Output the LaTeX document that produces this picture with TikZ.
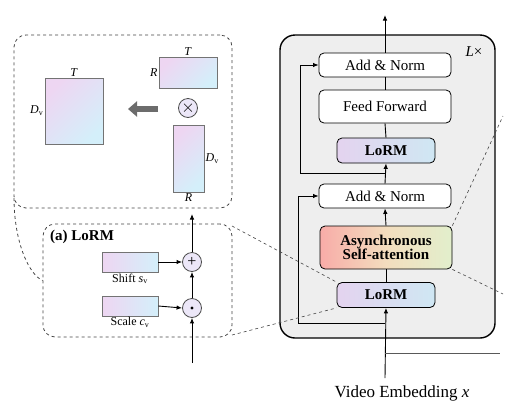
\documentclass[tikz,border=0pt]{standalone}
\usepackage{fontspec}
\setmainfont{Liberation Serif}
\usetikzlibrary{arrows.meta,calc}
\definecolor{matA}{HTML}{EED6F2}
\definecolor{matB}{HTML}{D4EFFA}
\definecolor{lorA}{HTML}{E4D3EF}
\definecolor{lorB}{HTML}{CFE7F3}
\definecolor{asaA}{HTML}{F8ACA8}
\definecolor{asaM}{HTML}{F3DDBE}
\definecolor{asaB}{HTML}{E2EFCC}
\definecolor{panel}{HTML}{EEEEEE}
\definecolor{dashc}{HTML}{444444}
\definecolor{circf}{HTML}{ECE7F8}
\tikzset{
  mat/.style={draw=gray!90!black, line width=0.8pt, top color=matA, bottom color=matB, shading angle=45, inner sep=0pt},
  lbl/.style={font=\fontsize{12}{12}\selectfont, inner sep=1pt},
  dbox/.style={draw=dashc, dashed, line width=0.8pt, rounded corners=12pt, inner sep=0pt},
  blk/.style={draw=black, line width=0.8pt, rounded corners=5pt, fill=white, minimum width=132pt, font=\fontsize{15}{15}\selectfont, inner sep=0pt},
  lorm/.style={draw=black, line width=0.8pt, rounded corners=5pt, left color=lorA, right color=lorB, minimum width=98pt, minimum height=25pt, font=\fontsize{15}{15}\selectfont\bfseries, inner sep=0pt},
  opc/.style={circle, draw=gray!60!black, line width=0.8pt, fill=circf, minimum size=19pt, inner sep=0pt, font=\fontsize{16}{16}\selectfont},
  arr/.style={-{Latex[length=5.5pt,width=4.5pt]}, line width=0.9pt},
  ln/.style={line width=0.9pt},
  zl/.style={draw=dashc, dashed, line width=0.6pt}
}
\begin{document}
\begin{tikzpicture}[x=1pt,y=-1pt]
\useasboundingbox (0,0) rectangle (512,416);
% ---------- left: decomposition panel ----------
\node[dbox, minimum width=218pt, minimum height=173pt] (topbox) at (123,121.5) {};
\node[mat, minimum width=58pt, minimum height=66pt] (M) at (74,111) {};
\node[lbl, anchor=south] (tM) at (M.north) {\textit{T}};
\node[lbl, anchor=east] (dM) at (M.west) {\textit{D}\textsubscript{v}};
\node[mat, minimum width=58pt, minimum height=31pt] (A) at (188,72.5) {};
\node[lbl, anchor=south] (tA) at (A.north) {\textit{T}};
\node[lbl, anchor=east] (rA) at (A.west) {\textit{R}};
\node[opc] (ot) at (188,108) {$\times$};
\node[mat, minimum width=31pt, minimum height=67pt] (B) at (188.5,158.5) {};
\node[lbl, anchor=west] (dB) at (B.east) {\textit{D}\textsubscript{v}};
\node[lbl, anchor=north] (rB) at (B.south) {\textit{R}};
\coordinate (ga1) at (158,109);
\coordinate (ga2) at (128,109);
\draw[line width=6pt, color=gray!85!black, -{Triangle[length=9pt,width=15pt]}] (ga1) -- (ga2);
% ---------- LoRM detail ----------
\node[dbox, minimum width=189pt, minimum height=113pt] (lbox) at (137.5,280.5) {};
\node[anchor=west, font=\fontsize{15}{15}\selectfont\bfseries, inner sep=0pt] (lt) at (50,237) {(a) LoRM};
\node[mat, shading angle=90, left color=matA, right color=matB, minimum width=56pt, minimum height=20pt] (sh) at (130,262) {};
\node[lbl, anchor=north] (shl) at (sh.south) {Shift \textit{s}\textsubscript{v}};
\node[mat, shading angle=90, left color=matA, right color=matB, minimum width=56pt, minimum height=20pt] (sc) at (130,306) {};
\node[lbl, anchor=north] (scl) at (sc.south) {Scale \textit{c}\textsubscript{v}};
\node[opc] (pl) at (192,262) {+};
\node[opc] (od) at (192,308) {};
\fill (od.center) circle (1.6pt);
\coordinate (inL) at (192,363);
\coordinate (outL) at (192,214);
\draw[arr] (sh.east) -- (pl.west);
\draw[arr] (sc.east) -- (od.west);
\draw[arr] (od.north) -- (pl.south);
\draw[arr] (inL) -- (od.south);
\draw[arr] (pl.north) -- (outL);
% curve linking panels
\coordinate (cv1) at (14,198);
\draw[zl, line width=0.8pt] (cv1) .. controls (14,240) and (28,274) .. (lbox.west);
% ---------- right: transformer block ----------
\node[draw=black, line width=1.4pt, rounded corners=15pt, fill=panel, minimum width=215pt, minimum height=303pt, inner sep=0pt] (main) at (387.5,186.5) {};
\node[font=\fontsize{15}{15}\selectfont, inner sep=0pt] (lx) at (474,52) {\textit{L}×};
\node[blk, minimum height=24pt] (an2) at (385,65) {Add \& Norm};
\node[blk, minimum height=33pt] (ff) at (385,106.5) {Feed Forward};
\node[lorm] (lo2) at (386,150.5) {LoRM};
\node[blk, minimum height=24pt] (an1) at (385,196) {Add \& Norm};
\node[draw=black, line width=0.8pt, rounded corners=5pt, left color=asaA, right color=asaB, middle color=asaM, minimum width=132pt, minimum height=43pt, inner sep=0pt, align=center, font=\fontsize{15}{15}\selectfont\bfseries] (asa) at (386,247.5) {Asynchronous\\[-1pt]Self-attention};
\node[lorm] (lo1) at (386,295) {LoRM};
\node[font=\fontsize{17}{17}\selectfont, inner sep=0pt] (vid) at (402,393) {Video Embedding \textit{x}};
\coordinate (vin) at (385,378);
\coordinate (top) at (385,15);
\coordinate (j1) at (385,323);
\coordinate (j2) at (385,173);
\coordinate (hs) at (385,353.5);
\coordinate (he) at (500,353.5);
\draw[arr] (vin) -- (lo1.south);
\draw[ln] (lo1.north) -- (asa.south);
\draw[arr] (asa.north) -- (an1.south);
\draw[arr] (an1.north) -- (lo2.south);
\draw[ln] (lo2.north) -- (ff.south);
\draw[ln] (ff.north) -- (an2.south);
\draw[arr] (an2.north) -- (top);
\draw[arr] (j1) -- (298,323) |- (an1.west);
\draw[arr] (j2) -- (300,173) |- (an2.west);
\draw[line width=1.4pt, color=gray!70!black] (hs) -- (he);
% zoom lines
\draw[zl] (232,226) -- (lo1.north west);
\draw[zl] (232,335) -- (lo1.south west);
\coordinate (zr1) at (503,116);
\coordinate (zr2) at (503,294);
\draw[zl] (asa.north east) -- (zr1);
\draw[zl] (asa.south east) -- (zr2);
\end{tikzpicture}
\end{document}
